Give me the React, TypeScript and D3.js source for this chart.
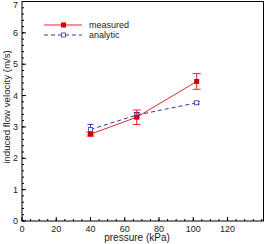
import React from "react";
import * as d3 from "d3";

const pressure = [40, 67, 102];
const measured = [2.77, 3.31, 4.45];
const measuredErr = [0.06, 0.23, 0.25];
const analytic = [2.92, 3.38, 3.77];
const analyticErr = [0.16, 0.08, 0.04];
const xTicks = [0, 20, 40, 60, 80, 100, 120];
const yTicks = [0, 1, 2, 3, 4, 5, 6, 7];

const W = 265, H = 244;
const m = { left: 22, right: 1.5, top: 1.5, bottom: 23 };
const font = "Liberation Sans, Arial, sans-serif";

export default function App() {
  const x = d3.scaleLinear().domain([0, 141]).range([m.left, W - m.right]);
  const y = d3.scaleLinear().domain([0, 7]).range([H - m.bottom, m.top]);
  const line = d3.line<number>().x((_, i) => x(pressure[i])).y(d => y(d));

  const xMinor = d3.range(0, 141, 5);
  const yMinor = d3.range(0, 7.01, 0.2);
  const red = "#e8262b";
  const blue = "#2d36b0";

  const errBars = (vals: number[], errs: number[], color: string, cap: number) =>
    vals.map((v, i) => (
      <g key={i} stroke={color} strokeWidth={1}>
        <line x1={x(pressure[i])} x2={x(pressure[i])} y1={y(v - errs[i])} y2={y(v + errs[i])} />
        <line x1={x(pressure[i]) - cap} x2={x(pressure[i]) + cap} y1={y(v - errs[i])} y2={y(v - errs[i])} />
        <line x1={x(pressure[i]) - cap} x2={x(pressure[i]) + cap} y1={y(v + errs[i])} y2={y(v + errs[i])} />
      </g>
    ));

  const bottom = H - m.bottom;
  return (
    <svg width={W} height={H} style={{ position: "absolute", left: 0, top: 0 }}>
      <rect width={W} height={H} fill="white" />
      {/* minor ticks */}
      {xMinor.map(t => (
        <line key={"xm" + t} x1={x(t)} x2={x(t)} y1={bottom} y2={bottom - 2} stroke="black" />
      ))}
      {xTicks.map(t => (
        <line key={"xM" + t} x1={x(t)} x2={x(t)} y1={bottom} y2={bottom - 4} stroke="black" />
      ))}
      {yMinor.map(t => (
        <line key={"ym" + t} x1={m.left} x2={m.left + 2} y1={y(t)} y2={y(t)} stroke="black" />
      ))}
      {yTicks.map(t => (
        <line key={"yM" + t} x1={m.left} x2={m.left + 4} y1={y(t)} y2={y(t)} stroke="black" />
      ))}
      <rect x={m.left} y={m.top} width={W - m.right - m.left} height={bottom - m.top}
        fill="none" stroke="black" strokeWidth={1} />
      {xTicks.map(t => (
        <text key={"xl" + t} x={x(t)} y={bottom + 10.5} fontSize={9} fontFamily={font}
          textAnchor="middle" fill="#222">{t}</text>
      ))}
      {yTicks.map(t => (
        <text key={"yl" + t} x={m.left - 4} y={Math.max(y(t) + 3.2, 7.5)} fontSize={9} fontFamily={font}
          textAnchor="end" fill="#222">{t}</text>
      ))}
      <text x={137} y={241} fontSize={10} fontFamily={font} textAnchor="middle" fill="#222">
        pressure (kPa)
      </text>
      <text transform={`translate(10,107) rotate(-90)`} fontSize={9.7}
        fontFamily={font} textAnchor="middle" fill="#222">
        induced flow velocity (m/s)
      </text>

      {/* analytic */}
      <path d={line(analytic) || ""} fill="none" stroke={blue} strokeWidth={1} strokeDasharray="4,3" />
      {errBars(analytic, analyticErr, blue, 3)}
      {analytic.map((v, i) => (
        <rect key={"am" + i} x={x(pressure[i]) - 2} y={y(v) - 2} width={4} height={4}
          fill="white" stroke={blue} strokeWidth={0.8} />
      ))}

      {/* measured */}
      <path d={line(measured) || ""} fill="none" stroke={red} strokeWidth={1} />
      {errBars(measured, measuredErr, red, 4)}
      {measured.map((v, i) => (
        <rect key={"mm" + i} x={x(pressure[i]) - 2.5} y={y(v) - 2.5} width={5} height={5} fill="#d40000" />
      ))}

      {/* legend */}
      <line x1={44} x2={82} y1={25} y2={25} stroke={red} strokeWidth={1} />
      <rect x={61} y={22.5} width={5} height={5} fill="#d40000" />
      <text x={89} y={28} fontSize={9} fontFamily={font} fill="#222">measured</text>
      <line x1={44} x2={82} y1={35} y2={35} stroke={blue} strokeWidth={1} strokeDasharray="4,3" />
      <rect x={61.5} y={33} width={4} height={4} fill="white" stroke={blue} strokeWidth={0.8} />
      <text x={89} y={38} fontSize={9} fontFamily={font} fill="#222">analytic</text>
    </svg>
  );
}
